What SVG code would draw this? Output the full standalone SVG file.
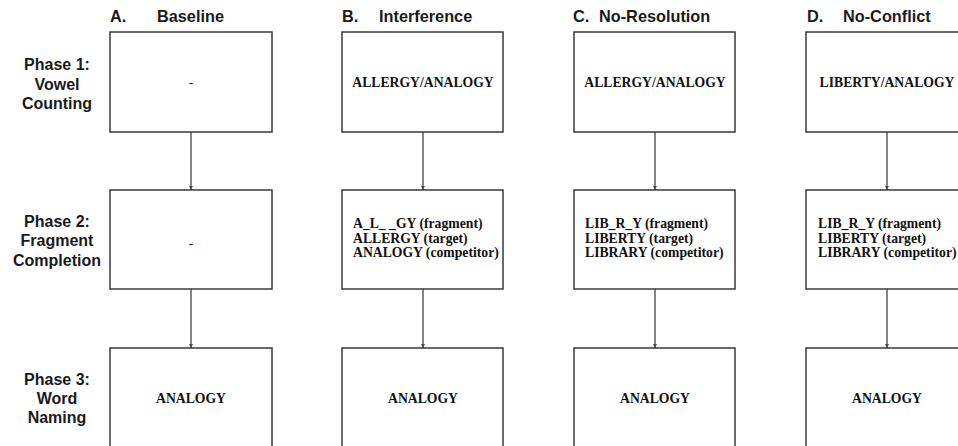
<svg xmlns="http://www.w3.org/2000/svg" width="958" height="446" viewBox="0 0 958 446">
<style>
.hd{font-family:"Liberation Sans",Arial,sans-serif;font-weight:bold;font-size:16.3px;fill:#1a1a1a}
.ph{font-family:"Liberation Sans",Arial,sans-serif;font-weight:bold;font-size:16px;fill:#1a1a1a;text-anchor:middle}
.bx{fill:#fff;stroke:#3a3a3a;stroke-width:1.5}
.t{font-family:"Liberation Serif","Times New Roman",serif;font-weight:bold;font-size:13.7px;fill:#111}
.c{text-anchor:middle}
.cn{stroke:#444;stroke-width:1.3;fill:none;marker-end:url(#ar)}
</style>
<defs>
<marker id="ar" viewBox="0 0 6 6" refX="6" refY="3" markerWidth="3" markerHeight="3" orient="auto" markerUnits="strokeWidth">
<path d="M0,0 L6,3 L0,6 Z" fill="#444"/>
</marker>
</defs>
<rect width="958" height="446" fill="#fff"/>
<g id="headers">
<text class="hd" x="110" y="22">A.</text><text class="hd" x="157" y="22">Baseline</text>
<text class="hd" x="342" y="22">B.</text><text class="hd" x="379" y="22">Interference</text>
<text class="hd" x="573" y="22">C.</text><text class="hd" x="599" y="22">No-Resolution</text>
<text class="hd" x="807" y="22">D.</text><text class="hd" x="843" y="22">No-Conflict</text>
</g>
<g id="phase-labels">
<text class="ph" x="57" y="70">Phase 1:</text><text class="ph" x="57" y="90">Vowel</text><text class="ph" x="57" y="109">Counting</text>
<text class="ph" x="57" y="227">Phase 2:</text><text class="ph" x="57" y="246">Fragment</text><text class="ph" x="57" y="266">Completion</text>
<text class="ph" x="57" y="385">Phase 3:</text><text class="ph" x="57" y="404">Word</text><text class="ph" x="57" y="423">Naming</text>
</g>
<g id="connectors">
<line class="cn" x1="191" y1="132" x2="191" y2="190"/>
<line class="cn" x1="191" y1="289" x2="191" y2="348"/>
<line class="cn" x1="423" y1="132" x2="423" y2="190"/>
<line class="cn" x1="423" y1="289" x2="423" y2="348"/>
<line class="cn" x1="655" y1="132" x2="655" y2="190"/>
<line class="cn" x1="655" y1="289" x2="655" y2="348"/>
<line class="cn" x1="887" y1="132" x2="887" y2="190"/>
<line class="cn" x1="887" y1="289" x2="887" y2="348"/>
</g>
<g id="A1"><rect class="bx" x="110" y="32" width="162" height="100"/><text class="t c" x="191" y="87" style="font-weight:normal;font-family:'Liberation Sans',sans-serif">-</text></g>
<g id="A2"><rect class="bx" x="110" y="190" width="162" height="99"/><text class="t c" x="191" y="248" style="font-weight:normal;font-family:'Liberation Sans',sans-serif">-</text></g>
<g id="A3"><rect class="bx" x="110" y="348" width="162" height="110"/><text class="t c" x="191" y="403">ANALOGY</text></g>
<g id="B1"><rect class="bx" x="342" y="32" width="161" height="100"/><text class="t c" x="423" y="87">ALLERGY/ANALOGY</text></g>
<g id="B2"><rect class="bx" x="342" y="190" width="161" height="99"/><text class="t" x="353" y="228">A_L_ _GY (fragment)</text><text class="t" x="353" y="243">ALLERGY (target)</text><text class="t" x="353" y="257">ANALOGY (competitor)</text></g>
<g id="B3"><rect class="bx" x="342" y="348" width="161" height="110"/><text class="t c" x="423" y="403">ANALOGY</text></g>
<g id="C1"><rect class="bx" x="574" y="32" width="161" height="100"/><text class="t c" x="655" y="87">ALLERGY/ANALOGY</text></g>
<g id="C2"><rect class="bx" x="574" y="190" width="161" height="99"/><text class="t" x="585" y="228">LIB_R_Y (fragment)</text><text class="t" x="585" y="243">LIBERTY (target)</text><text class="t" x="585" y="257">LIBRARY (competitor)</text></g>
<g id="C3"><rect class="bx" x="574" y="348" width="161" height="110"/><text class="t c" x="655" y="403">ANALOGY</text></g>
<g id="D1"><rect class="bx" x="806" y="32" width="162" height="100"/><text class="t c" x="887" y="87">LIBERTY/ANALOGY</text></g>
<g id="D2"><rect class="bx" x="806" y="190" width="162" height="99"/><text class="t" x="818" y="228">LIB_R_Y (fragment)</text><text class="t" x="818" y="243">LIBERTY (target)</text><text class="t" x="818" y="257">LIBRARY (competitor)</text></g>
<g id="D3"><rect class="bx" x="806" y="348" width="162" height="110"/><text class="t c" x="887" y="403">ANALOGY</text></g>
</svg>
